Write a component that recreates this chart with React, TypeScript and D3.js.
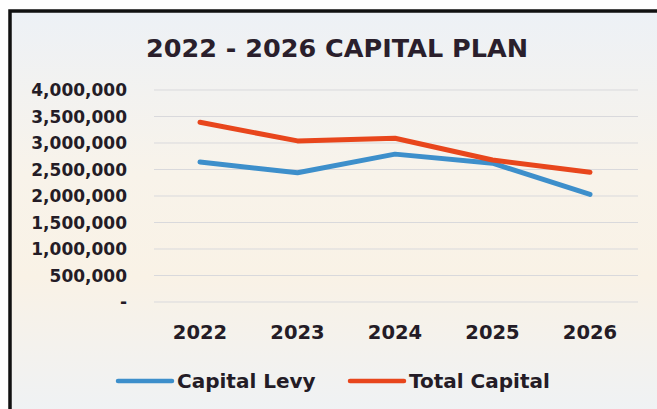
import * as d3 from "d3";
import React, { useEffect, useRef } from "react";

const years = ["2022", "2023", "2024", "2025", "2026"];
const capitalLevy = [2640000, 2440000, 2790000, 2620000, 2030000];
const totalCapital = [3390000, 3040000, 3090000, 2680000, 2450000];
const yTicks = [0, 500000, 1000000, 1500000, 2000000, 2500000, 3000000, 3500000, 4000000];

const seriesList = [
  { name: "Capital Levy", values: capitalLevy, color: "#3d8fcb" },
  { name: "Total Capital", values: totalCapital, color: "#e8461c" },
];

const App: React.FC = () => {
  const svgRef = useRef<SVGSVGElement>(null);

  useEffect(() => {
    const svg = d3.select(svgRef.current);
    svg.selectAll("*").remove();

    const W = 657;
    const H = 409;
    const font = "'DejaVu Sans', sans-serif";
    const textColor = "#241c26";

    // background + frame
    const defs = svg.append("defs");
    const grad = defs
      .append("linearGradient")
      .attr("id", "bg")
      .attr("x1", 0)
      .attr("y1", 0)
      .attr("x2", 0)
      .attr("y2", 1);
    grad.append("stop").attr("offset", "0%").attr("stop-color", "#edf1f6");
    grad.append("stop").attr("offset", "38%").attr("stop-color", "#f8f3ea");
    grad.append("stop").attr("offset", "62%").attr("stop-color", "#f9f2e6");
    grad.append("stop").attr("offset", "100%").attr("stop-color", "#edf2f7");

    svg.append("rect").attr("width", W).attr("height", H).attr("fill", "#ffffff");
    svg
      .append("rect")
      .attr("x", 10)
      .attr("y", 11)
      .attr("width", W + 20)
      .attr("height", H + 20)
      .attr("fill", "url(#bg)")
      .attr("stroke", "#111")
      .attr("stroke-width", 3.5);

    // title
    svg
      .append("text")
      .attr("x", 337)
      .attr("y", 57)
      .attr("text-anchor", "middle")
      .attr("font-family", font)
      .attr("font-weight", "bold")
      .attr("font-size", 25.5)
      .attr("fill", "#2a1f2c")
      .text("2022 - 2026 CAPITAL PLAN");

    // scales
    const xScale = d3.scalePoint<string>().domain(years).range([200, 590]);
    const yScale = d3.scaleLinear().domain([0, 4000000]).range([302, 90]);
    const plotLeft = 154;
    const plotRight = 638;

    // gridlines
    svg
      .append("g")
      .selectAll("line")
      .data(yTicks)
      .join("line")
      .attr("x1", plotLeft)
      .attr("x2", plotRight)
      .attr("y1", (d) => yScale(d))
      .attr("y2", (d) => yScale(d))
      .attr("stroke", "#d9d9dc")
      .attr("stroke-width", 1);

    // y labels
    const fmt = d3.format(",");
    svg
      .append("g")
      .selectAll("text")
      .data(yTicks)
      .join("text")
      .attr("x", 127)
      .attr("y", (d) => yScale(d))
      .attr("dy", "0.36em")
      .attr("text-anchor", "end")
      .attr("font-family", font)
      .attr("font-weight", "bold")
      .attr("font-size", 17)
      .attr("fill", textColor)
      .text((d) => (d === 0 ? "-" : fmt(d)));

    // x labels
    svg
      .append("g")
      .selectAll("text")
      .data(years)
      .join("text")
      .attr("x", (d) => xScale(d)!)
      .attr("y", 339)
      .attr("text-anchor", "middle")
      .attr("font-family", font)
      .attr("font-weight", "bold")
      .attr("font-size", 19.5)
      .attr("fill", textColor)
      .text((d) => d);

    // lines
    const line = d3
      .line<number>()
      .x((_, i) => xScale(years[i])!)
      .y((d) => yScale(d));

    seriesList.forEach((s) => {
      svg
        .append("path")
        .attr("d", line(s.values))
        .attr("fill", "none")
        .attr("stroke", s.color)
        .attr("stroke-width", 5)
        .attr("stroke-linecap", "round")
        .attr("stroke-linejoin", "round");
    });

    // legend
    const legendX = [118, 350];
    seriesList.forEach((s, i) => {
      const g = svg.append("g").attr("transform", `translate(${legendX[i]}, 381)`);
      g.append("line")
        .attr("x1", 0)
        .attr("x2", 54)
        .attr("stroke", s.color)
        .attr("stroke-width", 4.5)
        .attr("stroke-linecap", "round");
      g.append("text")
        .attr("x", 59)
        .attr("y", 7)
        .attr("font-family", font)
        .attr("font-weight", "bold")
        .attr("font-size", 20)
        .attr("fill", textColor)
        .text(s.name);
    });
  }, []);

  return (
    <div style={{ position: "fixed", left: 0, top: 0 }}>
      <svg ref={svgRef} width={657} height={409} style={{ display: "block" }}></svg>
    </div>
  );
};

export default App;
